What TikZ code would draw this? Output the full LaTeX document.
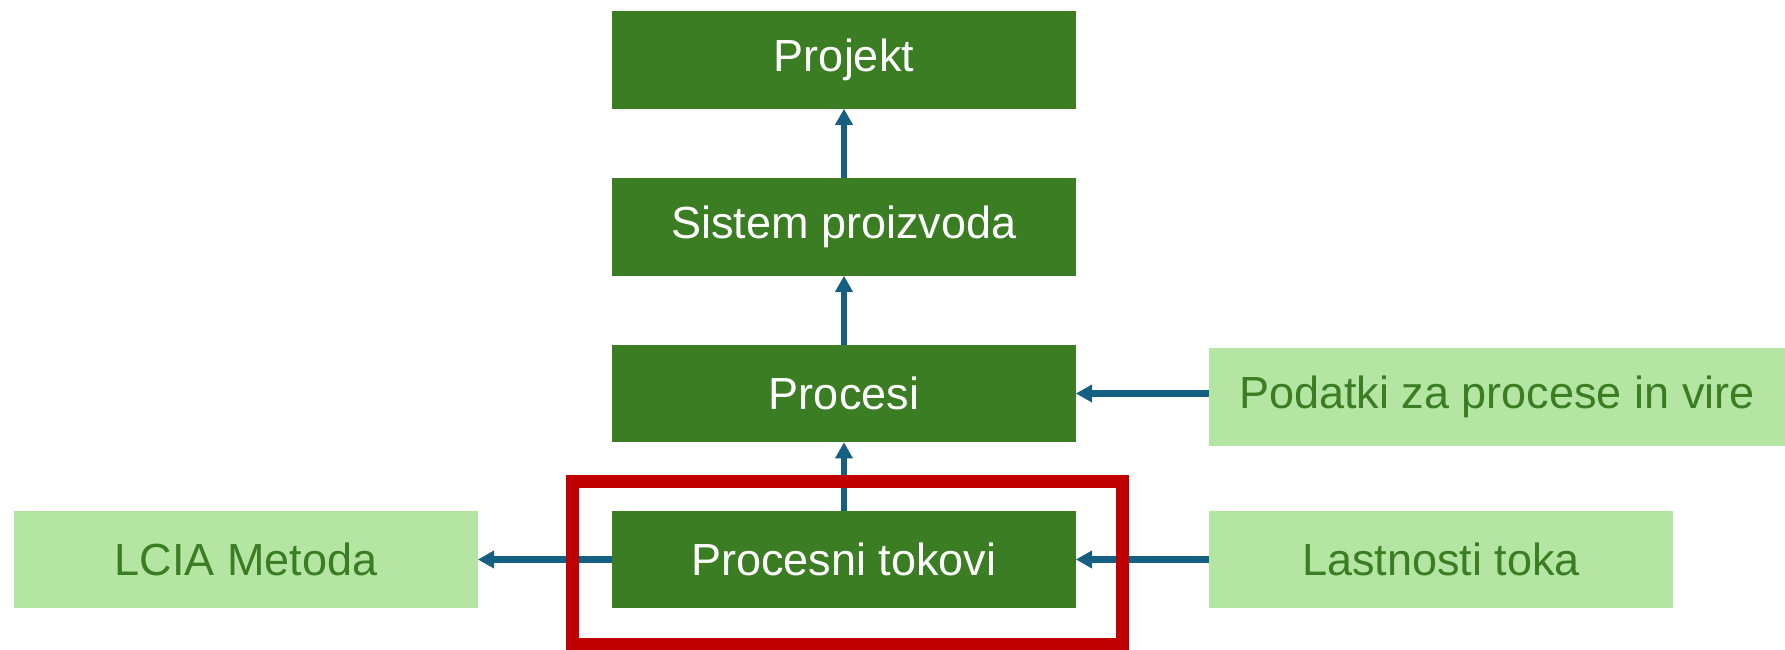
\documentclass[tikz,border=0pt]{standalone}
\usepackage{fontspec}
\setmainfont{Liberation Sans}
\usetikzlibrary{arrows.meta}
\definecolor{boxgreen}{HTML}{3B7D23}
\definecolor{lightgreen}{HTML}{B4E5A2}
\definecolor{arrowblue}{HTML}{156082}
\definecolor{markred}{HTML}{C00000}
\tikzset{
  mainbox/.style={fill=boxgreen, text=white, minimum width=11.575cm, minimum height=2.425cm, inner sep=0pt, font=\fontsize{32}{38}\selectfont},
  sidebox/.style={mainbox, fill=lightgreen, text=boxgreen},
  link/.style={->, arrowblue, line width=4.3pt},
}
\begin{document}
\begin{tikzpicture}[x=0.025cm, y=-0.025cm, >={Triangle[length=11.5pt,width=12pt]}]
                    \useasboundingbox (0,0) rectangle (1785,650);
                    \node[mainbox] (projekt) at (844,60) {Projekt};
                    \node[mainbox] (sistem) at (844,227) {Sistem proizvoda};
                    \node[mainbox] (procesi) at (844,393.5) {Procesi};
                    \node[mainbox] (tokovi) at (844,559.5) {Procesni tokovi};
                    \node[sidebox, minimum width=14.4cm] (podatki) at (1497,397) {Podatki za procese in vire};
                    \node[sidebox] (lcia) at (246,559.5) {LCIA Metoda};
                    \node[sidebox] (lastnosti) at (1441,559.5) {Lastnosti toka};
                    \draw[link] (sistem) -- (projekt);
                    \draw[link] (procesi) -- (sistem);
                    \draw[link] (tokovi) -- (procesi);
                    \draw[link] (podatki.west |- procesi.east) -- (procesi.east);
                    \draw[link] (lastnosti) -- (tokovi);
                    \draw[link] (tokovi) -- (lcia);
                    % red frame round the flows
                    \node[draw=markred, line width=9.2pt, minimum width=13.75cm, minimum height=4.075cm] (okvir) at (847.5,563) {};
                \end{tikzpicture}
\end{document}
